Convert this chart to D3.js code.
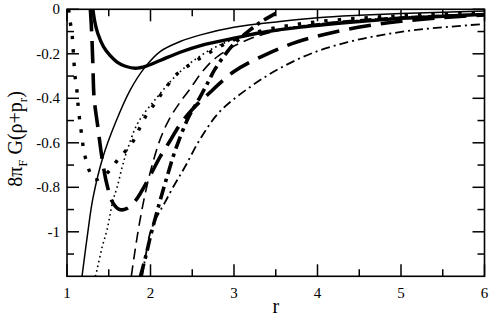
<!DOCTYPE html>
<html><head><meta charset="utf-8">
<script src="https://cdn.jsdelivr.net/npm/d3@7"></script>
<style>body{margin:0;background:#fff}</style>
</head><body><svg id="c" width="491" height="316"></svg>
<script>
// ---- data ----
const xTicks=[1,2,3,4,5,6];
const xTickLabels=["1","2","3","4","5","6"];
const xMinor=[1.5,2.5,3.5,4.5,5.5];
const yTicks=[0,-0.2,-0.4,-0.6,-0.8,-1];
const yTickLabels=["0","-0.2","-0.4","-0.6","-0.8","-1"];
const yMinor=[-0.1,-0.3,-0.5,-0.7,-0.9,-1.1];

const thinSolidR=[1.18,1.25,1.31,1.43,1.58,1.755,1.935,2.115,2.355,2.6,3.0,3.55,4.0,4.5,5.0,5.5,6.0];
const thinSolidV=[-1.2,-1.0,-0.85,-0.665,-0.51,-0.364,-0.26,-0.19,-0.145,-0.115,-0.081,-0.055,-0.038,-0.027,-0.019,-0.013,-0.008];

const thickSolidR=[1.31,1.335,1.37,1.44,1.515,1.6,1.7,1.82,1.95,2.115,2.355,2.6,3.0,3.4,3.8,4.5,5.0,5.5,6.0];
const thickSolidV=[0,-0.06,-0.11,-0.17,-0.207,-0.237,-0.256,-0.265,-0.255,-0.23,-0.193,-0.163,-0.13,-0.1,-0.08,-0.055,-0.041,-0.031,-0.023];

const thickDashR=[1.28,1.295,1.31,1.325,1.37,1.42,1.48,1.55,1.63,1.72,1.82,1.92,2.02,2.12,2.22,2.35,2.5,2.68,3.0,3.4,3.77,4.17,4.6,5.0,5.5,6.0];
const thickDashV=[0,-0.1,-0.25,-0.4,-0.53,-0.67,-0.79,-0.87,-0.9,-0.895,-0.86,-0.8,-0.73,-0.66,-0.6,-0.52,-0.45,-0.385,-0.28,-0.2,-0.145,-0.105,-0.074,-0.054,-0.037,-0.025];

const thinDashR=[1.77,1.85,1.93,2.02,2.12,2.23,2.35,2.47,2.6,2.73,2.87,3.0,3.3,3.7,4.2,5.0,6.0];
const thinDashV=[-1.2,-1.0,-0.84,-0.7,-0.58,-0.49,-0.42,-0.36,-0.29,-0.235,-0.195,-0.165,-0.118,-0.082,-0.057,-0.035,-0.021];

const thickDotR=[1.02,1.036,1.06,1.072,1.084,1.096,1.12,1.135,1.156,1.18,1.2,1.23,1.28,1.33,1.42,1.52,1.6,1.78,1.875,1.96,2.06,2.15,2.32,2.51,2.68,2.92,3.2,3.6,4.0,4.5,5.0,5.5,6.0];
const thickDotV=[0,-0.05,-0.11,-0.17,-0.24,-0.3,-0.37,-0.44,-0.51,-0.575,-0.634,-0.68,-0.737,-0.765,-0.755,-0.72,-0.68,-0.6,-0.53,-0.47,-0.42,-0.37,-0.29,-0.24,-0.2,-0.15,-0.11,-0.076,-0.056,-0.04,-0.029,-0.021,-0.015];

const thinDotR=[1.34,1.36,1.42,1.48,1.55,1.6,1.66,1.72,1.85,2.08,2.3,2.5,2.75,3.0,3.5,4.0,4.5,5.0,5.5,6.0];
const thinDotV=[-1.2,-1.17,-1.07,-0.99,-0.86,-0.8,-0.71,-0.634,-0.51,-0.395,-0.3,-0.235,-0.175,-0.135,-0.092,-0.066,-0.049,-0.037,-0.028,-0.022];

const thickDashDotR=[1.88,1.95,2.0,2.1,2.2,2.3,2.45,2.6,2.7,2.77,2.9,3.0,3.2,3.35,3.5];
const thickDashDotV=[-1.2,-1.1,-1.02,-0.88,-0.75,-0.63,-0.49,-0.39,-0.32,-0.27,-0.2,-0.155,-0.09,-0.05,-0.018];

const thinDashDotR=[1.9,1.96,2.0,2.08,2.17,2.27,2.41,2.6,2.83,3.19,3.55,3.95,4.36,4.75,5.15,5.56,6.0];
const thinDashDotV=[-1.2,-1.07,-1.0,-0.93,-0.87,-0.8,-0.71,-0.58,-0.46,-0.35,-0.265,-0.195,-0.148,-0.117,-0.094,-0.079,-0.066];

// ---- layout ----
const svg=d3.select("#c");
const L=67,R=484.5,T=9.3,B=276.3;
const x=d3.scaleLinear().domain([1,6]).range([L,R]);
const y=d3.scaleLinear().domain([-1.2,0]).range([B,T]);

svg.append("defs").append("clipPath").attr("id","pa").append("rect")
  .attr("x",L).attr("y",T).attr("width",R-L).attr("height",B-T);

const series=[
  {r:thinSolidR,v:thinSolidV,w:1.5,dash:null},
  {r:thickSolidR,v:thickSolidV,w:3.4,dash:null},
  {r:thinDotR,v:thinDotV,w:1.6,dash:"1.6,3.2"},
  {r:thickDotR,v:thickDotV,w:3.4,dash:"3.4,10"},
  {r:thinDashR,v:thinDashV,w:1.6,dash:"11,6"},
  {r:thickDashR,v:thickDashV,w:3.6,dash:"22,10"},
  {r:thinDashDotR,v:thinDashDotV,w:1.8,dash:"9,4,2,4"},
  {r:thickDashDotR,v:thickDashDotV,w:3.6,dash:"13,5,3.5,5"}
];
const line=d3.line().x(d=>x(d[0])).y(d=>y(d[1])).curve(d3.curveCatmullRom.alpha(0.5));
const g=svg.append("g").attr("clip-path","url(#pa)");
series.forEach(s=>{
  const pts=s.r.map((r,i)=>[r,s.v[i]]);
  g.append("path").attr("d",line(pts)).attr("fill","none").attr("stroke","#000")
   .attr("stroke-width",s.w).attr("stroke-dasharray",s.dash).attr("stroke-linecap","butt").attr("stroke-linejoin","round");
});

// ---- axes (ticks inward on all sides) ----
const MAJ=12,MIN=7;
const ax=svg.append("g").attr("stroke","#000").attr("stroke-width",1.5);
xTicks.forEach(t=>{
  ax.append("line").attr("x1",x(t)).attr("x2",x(t)).attr("y1",B).attr("y2",B-MAJ);
  ax.append("line").attr("x1",x(t)).attr("x2",x(t)).attr("y1",T).attr("y2",T+MAJ);
});
xMinor.forEach(t=>{
  ax.append("line").attr("x1",x(t)).attr("x2",x(t)).attr("y1",B).attr("y2",B-MIN);
  ax.append("line").attr("x1",x(t)).attr("x2",x(t)).attr("y1",T).attr("y2",T+MIN);
});
yTicks.forEach(t=>{
  ax.append("line").attr("y1",y(t)).attr("y2",y(t)).attr("x1",L).attr("x2",L+MAJ);
  ax.append("line").attr("y1",y(t)).attr("y2",y(t)).attr("x1",R).attr("x2",R-MAJ);
});
yMinor.forEach(t=>{
  ax.append("line").attr("y1",y(t)).attr("y2",y(t)).attr("x1",L).attr("x2",L+MIN);
  ax.append("line").attr("y1",y(t)).attr("y2",y(t)).attr("x1",R).attr("x2",R-MIN);
});
svg.append("rect").attr("x",L).attr("y",T).attr("width",R-L).attr("height",B-T)
  .attr("fill","none").attr("stroke","#000").attr("stroke-width",1.6);

const font="'Liberation Serif','Times New Roman',serif";
xTicks.forEach((t,i)=>{
  svg.append("text").attr("x",x(t)).attr("y",297.5).attr("text-anchor","middle")
   .attr("font-family",font).attr("font-size",15).text(xTickLabels[i]);
});
yTicks.forEach((t,i)=>{
  svg.append("text").attr("x",L-7).attr("y",y(t)+5).attr("text-anchor","end")
   .attr("font-family",font).attr("font-size",15).text(yTickLabels[i]);
});
svg.append("text").attr("x",(L+R)/2).attr("y",313).attr("text-anchor","middle")
  .attr("font-family",font).attr("font-size",20).text("r");

const yl=svg.append("text").attr("transform","translate(22,139) rotate(-90)")
  .attr("text-anchor","middle").attr("font-family",font).attr("font-size",20);
yl.append("tspan").text("8π");
yl.append("tspan").attr("font-size",13).attr("dy",5).text("F");
yl.append("tspan").attr("dy",-5).text(" G(ρ+p");
yl.append("tspan").attr("font-size",13).attr("dy",5).text("r");
yl.append("tspan").attr("dy",-5).text(")");
</script></body></html>
